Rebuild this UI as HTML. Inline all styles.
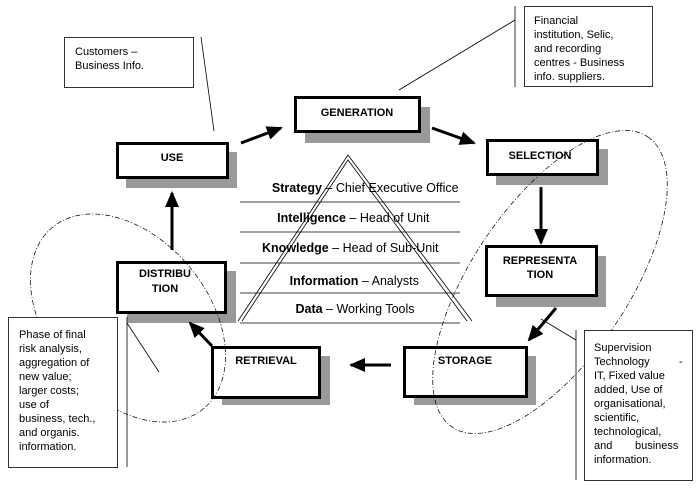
<!DOCTYPE html>
<html><head><meta charset="utf-8"><style>
html,body{margin:0;padding:0;background:#fff}
svg{display:block;font-family:"Liberation Sans",Arial,sans-serif}
.b{font-weight:bold;font-size:11px}
.n{font-size:11px}
.p{font-size:12.5px}
</style></head><body>
<svg width="697" height="492" viewBox="0 0 697 492">
<defs>
<marker id="ah2" markerWidth="16" markerHeight="14" refX="14" refY="7" orient="auto" markerUnits="userSpaceOnUse" viewBox="0 0 16 14"><path d="M0,0 L16,7 L0,14 z" fill="#000"/></marker></defs>

<!-- pyramid -->
<text class="p" text-anchor="middle"><tspan x="367" y="192"><tspan font-weight="bold">Strategy</tspan> – Chief Executive Office</tspan>
<tspan x="355" y="222"><tspan font-weight="bold">Intelligence</tspan> – Head of Unit</tspan>
<tspan x="352" y="252"><tspan font-weight="bold">Knowledge</tspan> – Head of Sub-Unit</tspan>
<tspan x="356" y="285"><tspan font-weight="bold">Information</tspan> – Analysts</tspan>
<tspan x="355" y="313"><tspan font-weight="bold">Data</tspan> – Working Tools</tspan></text>
<g stroke="#000" stroke-width="0.8" fill="none">
<line x1="240" y1="202" x2="460" y2="202"/><line x1="240" y1="232" x2="460" y2="232"/>
<line x1="240" y1="263" x2="460" y2="263"/><line x1="240" y1="293" x2="460" y2="293"/>
<line x1="240" y1="323" x2="460" y2="323"/>
<polyline points="238,321 348,155 472,321"/>
<polyline points="242,321 348,160 467,321"/>
</g>

<!-- boxes -->
<g fill="#999">
<rect x="305" y="107" width="125" height="36"/>
<rect x="126" y="152" width="111" height="36"/>
<rect x="496" y="149" width="112" height="36"/>
<rect x="496" y="256" width="110" height="51"/>
<rect x="127" y="271" width="109" height="52"/>
<rect x="222" y="356" width="108" height="49"/>
<rect x="414" y="356" width="122" height="49"/>
</g>
<g fill="#fff" stroke="#000" stroke-width="3">
<rect x="295.5" y="97.5" width="124" height="34"/>
<rect x="117.5" y="143.5" width="110" height="34"/>
<rect x="487.5" y="140.5" width="110" height="34"/>
<rect x="486.5" y="246.5" width="110" height="49"/>
<rect x="117.5" y="262.5" width="108" height="50"/>
<rect x="212.5" y="347.5" width="107" height="50"/>
<rect x="404.5" y="347.5" width="122" height="49"/>
</g>
<g class="b" text-anchor="middle">
<text x="357" y="116">GENERATION</text>
<text x="172" y="161">USE</text>
<text x="540" y="159">SELECTION</text>
<text x="540" y="264">REPRESENTA</text><text x="540" y="278">TION</text>
<text x="165" y="277">DISTRIBU</text><text x="165" y="292">TION</text>
<text x="266" y="364">RETRIEVAL</text>
<text x="465" y="364">STORAGE</text>
</g>

<!-- ellipses -->
<ellipse cx="128" cy="318" rx="118" ry="80" transform="rotate(50 128 318)" fill="none" stroke="#000" stroke-width="0.7" stroke-dasharray="5,2,1,2"/>
<ellipse cx="550" cy="282" rx="175" ry="78" transform="rotate(-56 550 282)" fill="none" stroke="#000" stroke-width="0.7" stroke-dasharray="5,2,1,2"/>

<!-- arrows -->
<g stroke="#000" stroke-width="3">
<line x1="241" y1="143" x2="281" y2="128" marker-end="url(#ah2)"/>
<line x1="432" y1="128" x2="474" y2="143" marker-end="url(#ah2)"/>
<line x1="541" y1="187" x2="541" y2="243" marker-end="url(#ah2)"/>
<line x1="556" y1="308" x2="529" y2="340" marker-end="url(#ah2)"/>
<line x1="391" y1="365" x2="351" y2="365" marker-end="url(#ah2)"/>
<line x1="212" y1="346" x2="190" y2="323" marker-end="url(#ah2)"/>
<line x1="172" y1="250" x2="172" y2="193" marker-end="url(#ah2)"/>
</g>

<!-- callouts -->
<rect x="64.5" y="37.5" width="129" height="50" fill="#fff" stroke="#000" stroke-width="0.8"/>
<text class="n" x="75" y="55">Customers –</text><text class="n" x="75" y="69">Business Info.</text>
<line x1="201" y1="37" x2="214" y2="131" stroke="#000" stroke-width="0.8"/>

<line x1="515" y1="6" x2="515" y2="87" stroke="#000" stroke-width="0.8"/>
<line x1="515" y1="20" x2="399" y2="90" stroke="#000" stroke-width="0.8"/>
<rect x="524.5" y="6.5" width="128" height="80" fill="#fff" stroke="#000" stroke-width="0.8"/>
<text class="n"><tspan x="534" y="24">Financial</tspan><tspan x="534" y="38">institution, Selic,</tspan><tspan x="534" y="52">and recording</tspan><tspan x="534" y="66">centres - Business</tspan><tspan x="534" y="80">info. suppliers.</tspan></text>

<rect x="8.5" y="317.5" width="109" height="150" fill="#fff" stroke="#000" stroke-width="0.8"/>
<line x1="127" y1="317" x2="127" y2="467" stroke="#000" stroke-width="0.8"/>
<line x1="127" y1="323" x2="159" y2="372" stroke="#000" stroke-width="0.8"/>
<text class="n"><tspan x="19" y="338">Phase of final</tspan><tspan x="19" y="352">risk analysis,</tspan><tspan x="19" y="366">aggregation of</tspan><tspan x="19" y="380">new value;</tspan><tspan x="19" y="394">larger costs;</tspan><tspan x="19" y="408">use of</tspan><tspan x="19" y="422">business, tech.,</tspan><tspan x="19" y="436">and organis.</tspan><tspan x="19" y="450">information.</tspan></text>

<line x1="576" y1="330" x2="576" y2="480" stroke="#000" stroke-width="0.8"/>
<line x1="541" y1="319" x2="576" y2="340" stroke="#000" stroke-width="0.8"/>
<rect x="584.5" y="330.5" width="108" height="150" fill="#fff" stroke="#000" stroke-width="0.8"/>
<text class="n"><tspan x="594" y="351">Supervision</tspan><tspan x="594" y="365">Technology</tspan><tspan x="679" y="365">-</tspan><tspan x="594" y="379">IT, Fixed value</tspan><tspan x="594" y="393">added, Use of</tspan><tspan x="594" y="407">organisational,</tspan><tspan x="594" y="421">scientific,</tspan><tspan x="594" y="435">technological,</tspan><tspan x="594" y="449">and</tspan><tspan x="635" y="449">business</tspan><tspan x="594" y="463">information.</tspan></text>
</svg>
</body></html>
